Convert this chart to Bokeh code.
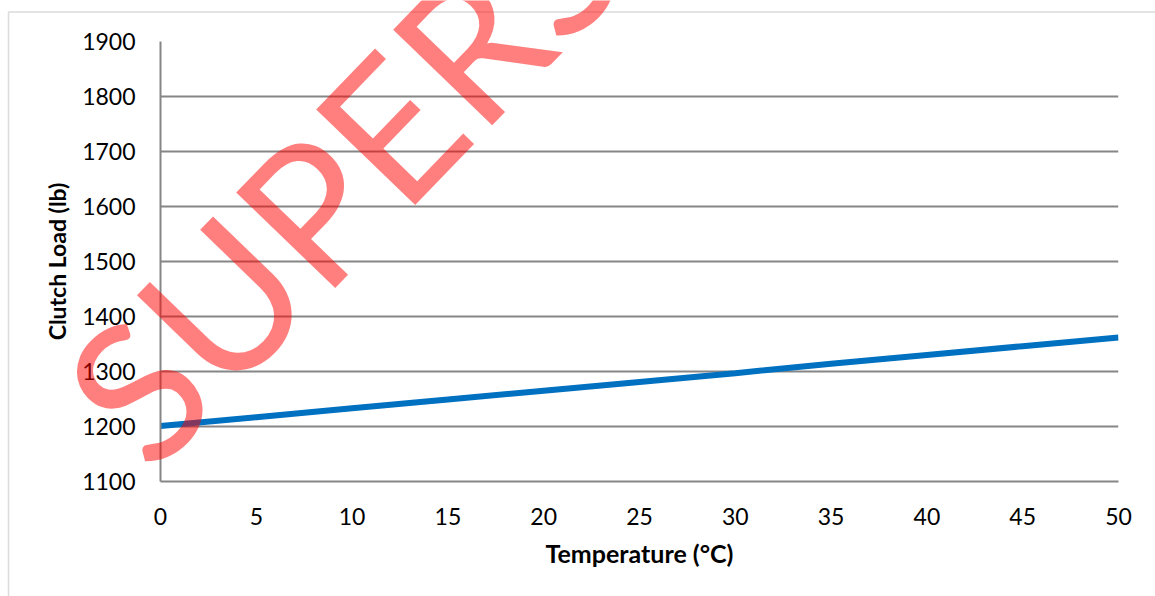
import math
from bokeh.plotting import figure
from bokeh.models import Range1d, FixedTicker, Label, BoxAnnotation, GridBox
from bokeh.embed import file_html
from bokeh.resources import INLINE

# Data
temperature = [0, 5, 10, 15, 20, 25, 30, 35, 40, 45, 50]
clutch_load = [1201, 1217, 1233, 1249, 1265, 1281, 1297, 1314, 1330, 1346, 1362]
x_ticks = [0, 5, 10, 15, 20, 25, 30, 35, 40, 45, 50]
y_ticks = [1100, 1200, 1300, 1400, 1500, 1600, 1700, 1800, 1900]
x_title = "Temperature (°C)"
y_title = "Clutch Load (lb)"
watermark = "SUPERSEDED"

GRID = "#868686"
FONT = "Lato"
W, H = 1155, 596

p = figure(
    output_backend="svg", toolbar_location=None,
    width=W, height=H,
    min_border_left=160, min_border_top=41, min_border_right=37, min_border_bottom=115,
    x_range=Range1d(0, 50), y_range=Range1d(1100, 1900),
    background_fill_color="white", border_fill_color="white",
    outline_line_color=None,
)
p.frame_align = False

p.line(temperature, clutch_load, line_color="#0070C0", line_width=6)

p.xgrid.visible = False
p.ygrid.ticker = FixedTicker(ticks=y_ticks)
p.ygrid.grid_line_color = GRID
p.ygrid.grid_line_width = 2

p.xaxis.ticker = FixedTicker(ticks=x_ticks)
p.yaxis.ticker = FixedTicker(ticks=y_ticks)
for ax in (p.xaxis[0], p.yaxis[0]):
    ax.axis_line_color = GRID
    ax.axis_line_width = 2
    ax.major_tick_line_color = None
    ax.minor_tick_line_color = None
    ax.major_label_text_font = FONT
    ax.major_label_text_font_size = "23px"
    ax.major_label_text_color = "#000000"
    ax.axis_label_text_font = FONT
    ax.axis_label_text_font_style = "bold"
    ax.axis_label_text_color = "#000000"

p.xaxis.axis_label = x_title
p.yaxis.axis_label = y_title
p.xaxis.axis_label_text_font_size = "25px"
p.yaxis.axis_label_text_font_size = "23px"
p.xaxis.major_label_standoff = 20
p.yaxis.major_label_standoff = 19
p.xaxis.axis_label_standoff = 10
p.yaxis.axis_label_standoff = 8

# transparent overlay covering the whole page: chart-area border + watermark
ov = figure(
    output_backend="svg", toolbar_location=None,
    width=W, height=H, min_border=0,
    x_range=Range1d(0, W), y_range=Range1d(H, 0),
    x_axis_type=None, y_axis_type=None,
    background_fill_color=None, border_fill_color=None,
    outline_line_color=None,
)
ov.frame_align = False

border = BoxAnnotation(left=8, right=5000, top=11.5, bottom=5000,
                       fill_alpha=0, line_color="#8c8c8c", line_width=1.5)
ov.add_layout(border)

wm = Label(x=98.5, y=425, text=watermark, angle=math.radians(46),
           text_font=FONT, text_font_size="192px", text_color="red",
           text_alpha=0.5, text_align="left", text_baseline="alphabetic")
ov.add_layout(wm)

layout = GridBox(children=[(p, 0, 0), (ov, 0, 0)])

open("out.html", "w").write(file_html(layout, INLINE))
